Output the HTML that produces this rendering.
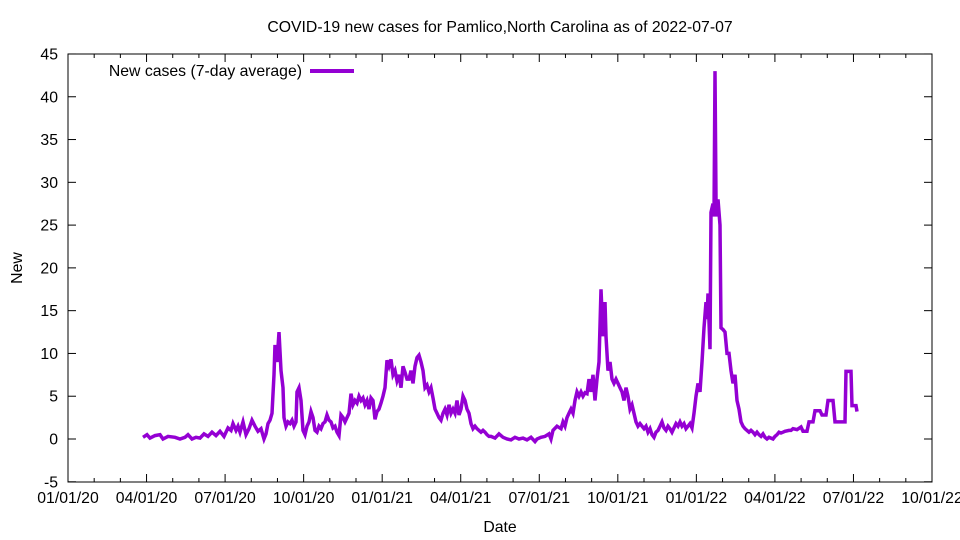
<!DOCTYPE html><html><head><style>body{margin:0;background:#fff}svg{display:block;font-family:"Liberation Sans",sans-serif}</style></head><body>
<svg id="s" width="960" height="540" xmlns="http://www.w3.org/2000/svg">
<rect x="68" y="54" width="864" height="428" fill="none" stroke="#000" stroke-width="1"/>
<text x="500" y="32" font-size="15.8" text-anchor="middle">COVID-19 new cases for Pamlico,North Carolina as of 2022-07-07</text>
<text x="500" y="532" font-size="15.8" text-anchor="middle">Date</text>
<text x="22" y="268" font-size="15.8" text-anchor="middle" transform="rotate(-90 22 268)">New</text>
<text x="302" y="76" font-size="15.8" text-anchor="end">New cases (7-day average)</text>
<line x1="310" y1="71" x2="354" y2="71" stroke="#9400d3" stroke-width="4"/>
<g id="ax"></g>
<polyline id="pl" fill="none" stroke="#9400d3" stroke-width="3.5" stroke-linejoin="miter"/>
</svg>
<script>
var ax=document.getElementById('ax'),h='';
for(var v=-5;v<=45;v+=5){var y=439-v*8.556;h+='<line x1="68" y1="'+y+'" x2="76" y2="'+y+'" stroke="#000"/><line x1="932" y1="'+y+'" x2="924" y2="'+y+'" stroke="#000"/><text x="58" y="'+(y+5.5)+'" font-size="15.8" text-anchor="end">'+v+'</text>';}
var L=['01/01/20','04/01/20','07/01/20','10/01/20','01/01/21','04/01/21','07/01/21','10/01/21','01/01/22','04/01/22','07/01/22','10/01/22'];
for(var m=0;m<=33;m++){var x=68+m*864/33;var mj=m%3==0;var l=mj?8:4;h+='<line x1="'+x+'" y1="482" x2="'+x+'" y2="'+(482-l)+'" stroke="#000"/><line x1="'+x+'" y1="54" x2="'+x+'" y2="'+(54+l)+'" stroke="#000"/>';if(mj)h+='<text x="'+x+'" y="503" font-size="15.8" text-anchor="middle">'+L[m/3]+'</text>';}
ax.innerHTML=h;
var d="143,0.2;147,0.5;150,0.1;155,0.4;160,0.5;163,0;168,0.3;175,0.2;180,0;185,0.2;188,0.5;192,0;196,0.2;200,0.1;204,0.6;208,0.3;212,0.8;216,0.4;220,0.9;224,0.3;228,1.3;231,1;233,1.8;236,1;238,1.5;240,0.8;243,2;246,0.5;249,1.2;252,2.2;255,1.5;258,0.9;261,1.2;264,0;266,0.6;268,1.8;270,2.2;272,3;274,7.5;275,11;277,9;279,12.5;281,8;283,6;284,2.5;286,1.5;288,2;290,1.8;292,2.2;294,1.5;296,2;297,5.5;299,6;301,4.5;303,1;305,0.5;307,1.5;309,2;311,3.2;313,2.5;315,1;317,0.8;319,1.5;321,1.2;323,1.8;325,2;327,2.8;329,2.2;331,2;333,1.3;335,1.5;337,0.8;339,0.4;341,2.8;343,2.5;345,2;347,2.5;349,3;351,5.3;353,4;355,4.5;357,4.2;359,5;361,4.5;363,4.8;365,4;367,4.5;369,3.5;371,4.8;373,4.5;375,2.3;377,3.2;379,3.5;381,4.2;383,5;385,6;387,9.2;389,8.5;391,9.3;393,7.5;395,8;397,6.8;399,7.5;401,6;403,8.5;405,7.8;407,7;409,7;411,8;413,6.5;415,8.5;417,9.5;419,9.8;421,9;423,8;425,6;427,6.3;429,5.5;431,6;433,4.8;435,3.5;437,3;439,2.5;441,2.2;443,3;445,3.5;447,2.8;449,4;451,3;453,3.5;455,3;457,4.5;459,2.8;461,3.5;463,5;465,4.5;467,3.5;469,3;471,1.8;473,1.2;475,1.5;477,1.2;479,1;481,0.8;483,1;485,0.8;487,0.5;489,0.3;491,0.3;495,0.1;499,0.6;503,0.2;507,0;511,-0.1;515,0.2;519,0;523,0.1;527,-0.1;531,0.2;535,-0.3;537,0;541,0.2;545,0.3;549,0.6;551,0;553,1;557,1.5;561,1.2;563,2;565,1.5;567,2.5;569,3;571,3.5;573,3;575,4.5;577,5.5;579,5;581,5.5;583,5;585,5.4;587,5.3;589,7;591,5.5;593,7.5;595,4.5;597,7;599,9;601,17.5;603,12;605,16;606,12;608,8;610,9;612,7;614,6.5;616,7;618,6.5;620,6;622,5.5;624,4.5;626,6;628,5;630,3.5;632,4;634,3;636,2;638,1.5;640,1.8;642,1.5;644,1.2;646,1.5;648,0.8;650,1.2;652,0.5;654,0.2;656,0.8;658,1;660,1.5;662,2;664,1.3;666,1;668,1.5;670,1.2;672,0.8;674,1.3;676,1.8;678,1.5;680,2;682,1.5;684,1.8;686,1.2;688,1.5;690,1.8;692,1.3;694,3;696,5;698,6.5;700,5.5;702,9;704,13;706,16;707,14;708,17;710,10.5;711,26.5;713,27.5;714,26;715,43;716,28;717,26;718,28;720,25;721,13;723,12.8;725,12.5;727,10;729,10;731,8;733,6.5;735,7.5;737,4.5;739,3.5;741,2;743,1.5;745,1.2;747,1;749,0.8;751,1;753,0.8;755,0.5;757,0.8;759,0.5;761,0.3;763,0.6;765,0.2;767,0;769,0.2;771,0.1;773,0;775,0.3;777,0.5;779,0.8;781,0.7;783,0.8;785,0.9;789,1;791,1;793,1.2;797,1.1;801,1.4;803,0.9;807,0.9;809,2;813,2;815,3.3;820,3.3;822,2.8;826,2.8;828,4.5;833,4.5;835,2;845,2;846,7.9;851,7.9;852,3.9;856,3.9;857,3.2";
document.getElementById('pl').setAttribute('points',d.split(';').map(function(p){var a=p.split(',');return a[0]+','+(439-a[1]*8.556).toFixed(1);}).join(' '));
</script></body></html>
